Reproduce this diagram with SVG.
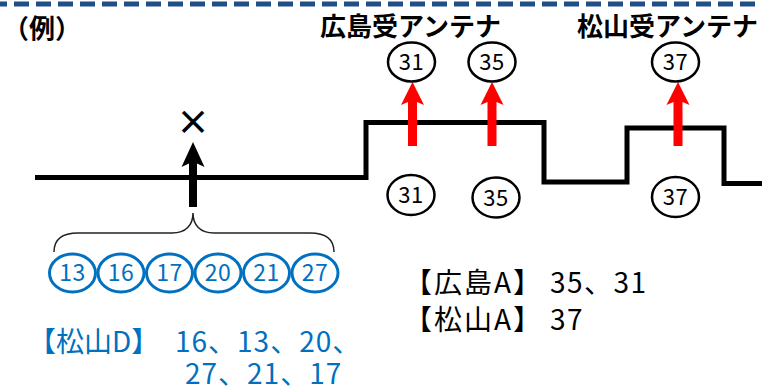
<svg xmlns="http://www.w3.org/2000/svg" width="762" height="390" viewBox="0 0 762 390">
  <style>
    .jp { font-family: "Noto Sans CJK JP", "Noto Sans", sans-serif; }
    .title { font-size: 26px; font-weight: bold; fill: #000; }
    .bc { fill: #fff; stroke: #000; stroke-width: 2.5; }
    .bt { font-size: 22px; fill: #000; text-anchor: middle; letter-spacing: 0.5px; }
    .uc { fill: #fff; stroke: #0070C0; stroke-width: 3; }
    .ut { font-size: 23px; fill: #0070C0; text-anchor: middle; letter-spacing: 0.5px; }
    .lbl { font-size: 28px; fill: #000; }
    .ulbl { font-size: 28px; fill: #0070C0; }
  </style>
  <rect width="762" height="390" fill="#fff"/>
  <line x1="0" y1="4" x2="762" y2="4" stroke="#1F4E89" stroke-width="5" stroke-dasharray="15 7" stroke-dashoffset="8"/>

  <g id="connectors">
    <path d="M35,177.5 H366 V122.5 H544 V182 H627 V128 H724 V183.5 H764" fill="none" stroke="#000" stroke-width="5"/>
    <polygon points="193,142 204.5,167 197,163.5 197,207 189,207 189,163.5 181.5,167" fill="#000"/>
    <polygon points="412.5,82 424,105 417,102 417,146 408,146 408,102 401,105" fill="#FF0000"/>
    <polygon points="492,82 503.5,105 496.5,102 496.5,146 487.5,146 487.5,102 480.5,105" fill="#FF0000"/>
    <polygon points="678,82 689.5,105 682.5,102 682.5,146 673.5,146 673.5,102 666.5,105" fill="#FF0000"/>
    <path d="M54,252 C54,240 62,233 78,233 L172,233 C186,233 193,225 193,213 C193,225 200,233 214,233 L310,233 C326,233 334,240 334,252" fill="none" stroke="#222" stroke-width="1.5"/>
  </g>

  <g id="title"><text class="jp title" x="3" y="38" font-size="28">（例）</text></g>
  <g id="hiroshima-label"><text class="jp title" x="320" y="36">広島受アンテナ</text></g>
  <g id="matsuyama-label"><text class="jp title" x="577" y="36">松山受アンテナ</text></g>
  <g id="cross"><text class="jp" x="193" y="135" font-size="34" font-weight="bold" text-anchor="middle" fill="#000">×</text></g>

  <g id="h31-top"><ellipse class="bc" cx="411.5" cy="62" rx="23.5" ry="19.5"/><text class="jp bt" x="411.5" y="70">31</text></g>
  <g id="h35-top"><ellipse class="bc" cx="492" cy="62" rx="23.5" ry="19.5"/><text class="jp bt" x="492" y="70">35</text></g>
  <g id="m37-top"><ellipse class="bc" cx="675.5" cy="62" rx="23.5" ry="19.5"/><text class="jp bt" x="675.5" y="70">37</text></g>
  <g id="h31-bot"><ellipse class="bc" cx="411" cy="195" rx="23.5" ry="20"/><text class="jp bt" x="411" y="203">31</text></g>
  <g id="h35-bot"><ellipse class="bc" cx="496" cy="197.5" rx="23.5" ry="20"/><text class="jp bt" x="496" y="205.5">35</text></g>
  <g id="m37-bot"><ellipse class="bc" cx="675.5" cy="197" rx="23.5" ry="20"/><text class="jp bt" x="675.5" y="205">37</text></g>

  <g id="d13"><ellipse class="uc" cx="72.5" cy="273" rx="23" ry="19"/><text class="jp ut" x="72.5" y="281">13</text></g>
  <g id="d16"><ellipse class="uc" cx="121" cy="273" rx="23" ry="19"/><text class="jp ut" x="121" y="281">16</text></g>
  <g id="d17"><ellipse class="uc" cx="169.5" cy="273" rx="23" ry="19"/><text class="jp ut" x="169.5" y="281">17</text></g>
  <g id="d20"><ellipse class="uc" cx="218" cy="273" rx="23" ry="19"/><text class="jp ut" x="218" y="281">20</text></g>
  <g id="d21"><ellipse class="uc" cx="266.5" cy="273" rx="23" ry="19"/><text class="jp ut" x="266.5" y="281">21</text></g>
  <g id="d27"><ellipse class="uc" cx="315" cy="273" rx="23" ry="19"/><text class="jp ut" x="315" y="281">27</text></g>

  <g id="hiroshima-a"><text class="jp lbl" x="404" y="293"><tspan letter-spacing="2">【広島A】</tspan><tspan x="550" letter-spacing="1.5">35、31</tspan></text></g>
  <g id="matsuyama-a"><text class="jp lbl" x="404" y="330"><tspan letter-spacing="2">【松山A】</tspan><tspan x="550" letter-spacing="1.5">37</tspan></text></g>
  <g id="matsuyama-d">
    <text class="jp ulbl" x="28" y="352">【松山D】<tspan x="175" letter-spacing="1">16、13、20、</tspan></text>
    <text class="jp ulbl" x="185" y="384" letter-spacing="1">27、21、17</text>
  </g>
</svg>
